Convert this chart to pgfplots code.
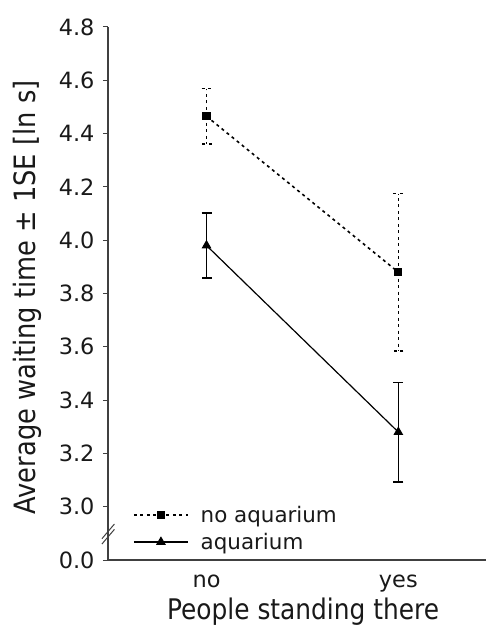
\documentclass[border=0pt]{standalone}
\usepackage{pgfplots}
\pgfplotsset{compat=1.18}
\usepackage{fontspec}
\setmainfont{DejaVu Sans}
\newfontfamily\labelfont{DejaVu Sans}[FakeStretch=0.875]
\begin{document}
\begin{tikzpicture}
\begin{axis}[
  at={(0,0)}, anchor=south west,
  scale only axis, width=378bp, height=533bp,
  xmin=-0.5135, xmax=1.457, ymin=2.8, ymax=4.8,
  axis x line=bottom, axis y line=left,
  axis line style={-, line width=1.2bp, color=black!75},
  clip=false,
  xtick={0,1}, xticklabels={no,yes},
  xtick style={draw=none},
  ytick={2.8,3,3.2,3.4,3.6,3.8,4,4.2,4.4,4.6,4.8},
  yticklabels={0.0,3.0,3.2,3.4,3.6,3.8,4.0,4.2,4.4,4.6,4.8},
  tick align=outside, major tick length=5bp,
  ytick style={line width=1bp, color=black!75},
  /pgf/number format/assume math mode=true,
  tick label style={font=\fontsize{22.5}{26}\selectfont, text=black!90},
  yticklabel style={xshift=-5bp},
  xticklabel style={yshift=-6bp},
  xlabel={People standing there},
  ylabel={Average waiting time ± 1SE [ln s]},
  xlabel style={font=\labelfont\fontsize{28.5}{30}\selectfont, text=black!90, at={(axis description cs:0.516,-0.097)}, anchor=center},
  ylabel style={font=\labelfont\fontsize{29.5}{32}\selectfont, text=black!90, at={(axis description cs:-0.214,0.4925)}, anchor=center, rotate=0},
  legend style={draw=none, fill=none, at={(axis description cs:0.066,0.013)}, anchor=south west,
    font=\fontsize{21.5}{24}\selectfont, text=black!90, row sep=5bp, inner sep=0pt},
  legend cell align=left,
  legend image code/.code={\draw[mark repeat=2, mark phase=2, #1] plot coordinates {(0bp,0bp) (27bp,0bp) (54bp,0bp)}; \path (64bp,0bp);},
]
\addplot[black, line width=1.6bp, dash pattern=on 3bp off 3.5bp, mark=square*, mark size=3.3bp, mark options={solid},
  error bars/.cd, y dir=both, y explicit,
  error bar style={line width=1.6bp, dash pattern=on 3bp off 3.5bp},
  error mark options={rotate=90, mark size=5bp, line width=1.6bp, dash pattern=on 3bp off 3.5bp}]
  coordinates {(0,4.465) +- (0,0.104) (1,3.88) +- (0,0.295)};
\addlegendentry{no aquarium}
\addplot[black, line width=1.2bp, mark=triangle*, mark size=4.5bp,
  error bars/.cd, y dir=both, y explicit,
  error bar style={line width=1.2bp},
  error mark options={rotate=90, mark size=5bp, line width=1.2bp}]
  coordinates {(0,3.98) +- (0,0.122) (1,3.28) +- (0,0.187)};
\addlegendentry{aquarium}
\draw[line width=1bp, black!75] (axis cs:-0.545,2.88) -- (axis cs:-0.48,2.935);
\draw[line width=1bp, black!75] (axis cs:-0.545,2.86) -- (axis cs:-0.48,2.915);
\end{axis}
\pgfresetboundingbox
\path[use as bounding box] (-108bp,-65bp) rectangle (378bp,560bp);
\end{tikzpicture}
\end{document}
